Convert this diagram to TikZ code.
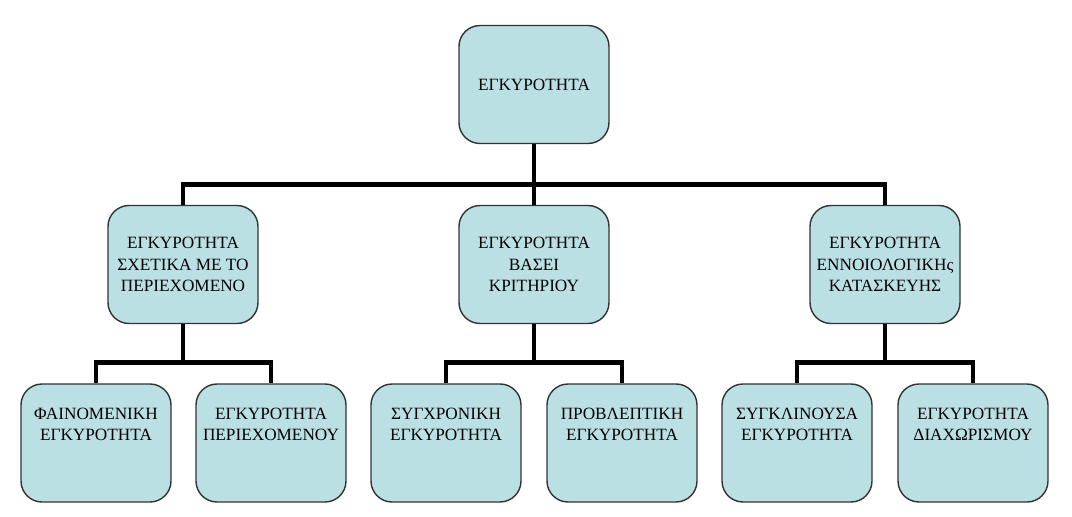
\documentclass[tikz,border=0pt]{standalone}
\usepackage{fontspec}
\setmainfont{Liberation Serif}
\usepackage{tikz}
\usetikzlibrary{positioning}
\definecolor{boxblue}{HTML}{BBE0E3}
\definecolor{boxedge}{HTML}{333333}

\begin{document}
\begin{tikzpicture}[
    box/.style={rectangle, draw=boxedge, fill=boxblue, line width=0.8pt,
                rounded corners=0.42cm, minimum width=3cm, minimum height=2.36cm,
                font=\fontsize{9.8}{12.2}\selectfont, align=center},
    leafbox/.style={box, text depth=0.75cm},
    conn/.style={line width=2.8pt, draw=black}
]
\useasboundingbox (0,0) rectangle (21.44,10.32);

% Root
\node[box] at (10.68,8.63) (root) {ΕΓΚΥΡΟΤΗΤΑ};

% Second level
\node[box] at (3.66,5.03) (content) {ΕΓΚΥΡΟΤΗΤΑ\\ΣΧΕΤΙΚΑ ΜΕ ΤΟ\\ΠΕΡΙΕΧΟΜΕΝΟ};
\node[box] at (10.68,5.03) (criterion) {ΕΓΚΥΡΟΤΗΤΑ\\ΒΑΣΕΙ\\ΚΡΙΤΗΡΙΟΥ};
\node[box] at (17.70,5.03) (construct) {ΕΓΚΥΡΟΤΗΤΑ\\ΕΝΝΟΙΟΛΟΓΙΚΗς\\ΚΑΤΑΣΚΕΥΗΣ};

% Third level
\node[leafbox] at (1.92,1.46) (face) {ΦΑΙΝΟΜΕΝΙΚΗ\\ΕΓΚΥΡΟΤΗΤΑ};
\node[leafbox] at (5.42,1.46) (contval) {ΕΓΚΥΡΟΤΗΤΑ\\ΠΕΡΙΕΧΟΜΕΝΟΥ};
\node[leafbox] at (8.92,1.46) (concurrent) {ΣΥΓΧΡΟΝΙΚΗ\\ΕΓΚΥΡΟΤΗΤΑ};
\node[leafbox] at (12.44,1.46) (predictive) {ΠΡΟΒΛΕΠΤΙΚΗ\\ΕΓΚΥΡΟΤΗΤΑ};
\node[leafbox] at (15.94,1.46) (convergent) {ΣΥΓΚΛΙΝΟΥΣΑ\\ΕΓΚΥΡΟΤΗΤΑ};
\node[leafbox] at (19.46,1.46) (discriminant) {ΕΓΚΥΡΟΤΗΤΑ\\ΔΙΑΧΩΡΙΣΜΟΥ};

% Root to second level
\foreach \c in {content, criterion, construct}
    \draw[conn] (root.south) -- ++(0,-0.8) -| (\c.north);

% Second level to leaves
\foreach \p/\c in {content/face, content/contval, criterion/concurrent,
                   criterion/predictive, construct/convergent, construct/discriminant}
    \draw[conn] (\p.south) -- ++(0,-0.76) -| (\c.north);

\end{tikzpicture}
\end{document}
